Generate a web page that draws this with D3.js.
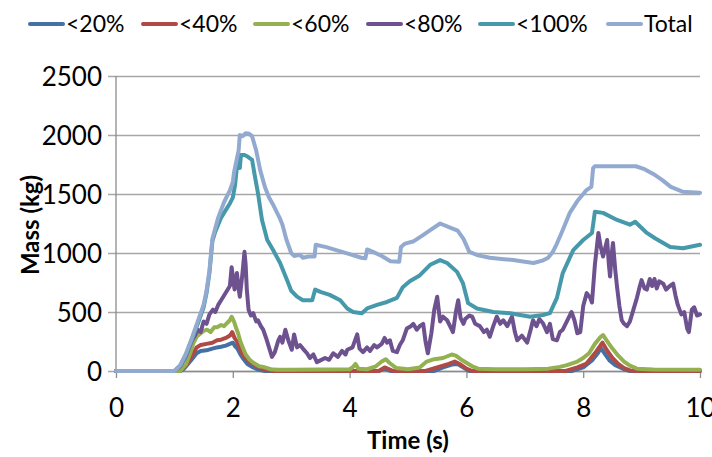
<!DOCTYPE html>
<html lang="en">
<head>
    <script src="https://d3js.org/d3.v7.min.js"></script>
    <style>
        body { margin: 0; background: #fff; }
        text { font-family: Lato, "Liberation Sans", sans-serif; fill: #000; }
    </style>
</head>
<body>
    <svg></svg>
    <script>
        // series: [time (s), mass (kg)]
        const seriesNames = ['<20%', '<40%', '<60%', '<80%', '<100%', 'Total']
        const seriesColors = ['#4470a5', '#b04a47', '#93b151', '#6e5290', '#4699ab', '#93aad0']
        const xTicks = [0, 2, 4, 6, 8, 10]
        const yTicks = [0, 500, 1000, 1500, 2000, 2500]

        const under20 = [[0,0],[1.1,0],[1.15,15],[1.2,40],[1.3,100],[1.38,150],[1.45,170],[1.55,175],[1.65,190],[1.73,200],[1.8,205],[1.88,215],[1.95,230],[2,240],[2.04,210],[2.08,190],[2.13,140],[2.17,110],[2.25,60],[2.35,30],[2.45,10],[2.55,0],[4.5,0],[4.6,20],[4.7,0],[5.45,0],[5.6,30],[5.75,55],[5.85,60],[5.95,30],[6.05,0],[7.8,0],[8,30],[8.15,90],[8.25,150],[8.3,195],[8.35,160],[8.45,90],[8.55,50],[8.7,15],[8.8,0],[10,0]]
        const under40 = [[0,0],[1.1,0],[1.15,20],[1.2,50],[1.3,130],[1.38,200],[1.45,220],[1.55,230],[1.65,240],[1.73,260],[1.8,265],[1.88,280],[1.95,300],[1.99,330],[2.03,280],[2.07,250],[2.12,190],[2.17,140],[2.25,90],[2.35,60],[2.45,30],[2.55,10],[2.7,0],[4.5,0],[4.6,30],[4.65,20],[4.75,0],[5.3,0],[5.5,30],[5.7,60],[5.8,80],[5.9,55],[6,20],[6.1,0],[7.7,0],[7.9,30],[8.05,60],[8.2,150],[8.3,220],[8.33,240],[8.4,180],[8.5,110],[8.6,60],[8.7,25],[8.8,5],[8.9,0],[10,0]]
        const under60 = [[0,0],[1.1,0],[1.15,30],[1.2,60],[1.27,150],[1.32,230],[1.38,290],[1.45,320],[1.5,340],[1.56,350],[1.62,330],[1.68,370],[1.73,370],[1.8,390],[1.85,380],[1.9,405],[1.95,430],[1.98,460],[2.02,420],[2.06,360],[2.09,320],[2.13,250],[2.17,200],[2.22,140],[2.29,95],[2.35,70],[2.45,40],[2.52,35],[2.65,15],[2.76,10],[3,10],[3.5,12],[4,15],[4.05,30],[4.1,60],[4.15,20],[4.3,15],[4.45,40],[4.55,80],[4.62,100],[4.68,70],[4.8,25],[5,15],[5.2,30],[5.32,80],[5.45,100],[5.6,110],[5.75,140],[5.82,130],[5.9,100],[6,70],[6.1,40],[6.2,20],[6.5,15],[7,15],[7.4,20],[7.6,35],[7.72,50],[7.9,80],[8,110],[8.1,150],[8.2,230],[8.3,290],[8.34,305],[8.4,260],[8.5,190],[8.6,130],[8.7,80],[8.8,45],[8.92,20],[9.2,12],[10,10]]
        const under80 = [[0,0],[1,0],[1.1,40],[1.2,130],[1.3,260],[1.35,300],[1.4,350],[1.45,330],[1.5,420],[1.55,400],[1.6,480],[1.66,520],[1.7,500],[1.75,560],[1.8,600],[1.85,640],[1.9,680],[1.95,720],[1.98,880],[2.01,760],[2.03,690],[2.07,830],[2.1,700],[2.12,630],[2.16,800],[2.2,1010],[2.22,900],[2.24,690],[2.27,520],[2.31,470],[2.35,490],[2.4,420],[2.43,430],[2.48,380],[2.52,350],[2.57,280],[2.62,200],[2.67,120],[2.72,160],[2.78,260],[2.81,290],[2.85,240],[2.9,350],[2.95,260],[3.01,180],[3.05,310],[3.1,200],[3.15,220],[3.2,190],[3.27,150],[3.32,110],[3.38,140],[3.44,75],[3.5,90],[3.58,110],[3.65,95],[3.72,150],[3.8,120],[3.87,170],[3.93,140],[3.96,180],[4.05,200],[4.13,310],[4.17,190],[4.23,160],[4.3,200],[4.35,170],[4.42,220],[4.47,200],[4.55,230],[4.6,280],[4.64,240],[4.69,260],[4.74,170],[4.81,160],[4.86,220],[4.91,260],[4.98,360],[5.05,380],[5.09,400],[5.15,350],[5.2,380],[5.26,400],[5.3,250],[5.34,150],[5.4,320],[5.45,520],[5.5,630],[5.53,500],[5.55,420],[5.6,460],[5.67,430],[5.72,380],[5.77,330],[5.82,500],[5.86,600],[5.9,450],[5.95,400],[5.98,440],[6.05,470],[6.1,460],[6.15,400],[6.23,380],[6.3,330],[6.35,350],[6.4,290],[6.46,380],[6.52,460],[6.58,400],[6.63,430],[6.7,380],[6.78,460],[6.83,330],[6.87,260],[6.95,300],[7.04,240],[7.1,350],[7.14,430],[7.2,380],[7.25,440],[7.31,405],[7.38,330],[7.43,400],[7.48,270],[7.55,260],[7.6,330],[7.65,350],[7.72,420],[7.8,500],[7.85,430],[7.9,320],[7.95,330],[8,550],[8.06,660],[8.12,620],[8.15,580],[8.2,900],[8.26,1170],[8.3,1050],[8.34,970],[8.38,1050],[8.41,1110],[8.44,900],[8.46,800],[8.49,1000],[8.51,1085],[8.55,850],[8.58,710],[8.62,550],[8.66,430],[8.7,400],[8.75,380],[8.8,420],[8.86,520],[8.92,620],[8.97,720],[9,770],[9.05,700],[9.09,690],[9.14,780],[9.18,720],[9.22,780],[9.26,700],[9.3,760],[9.37,740],[9.42,690],[9.48,720],[9.54,740],[9.58,640],[9.62,560],[9.68,480],[9.73,500],[9.78,360],[9.81,330],[9.86,520],[9.9,540],[9.95,470],[10,480]]
        const under100 = [[0,0],[1,0],[1.1,45],[1.2,140],[1.3,270],[1.4,400],[1.5,540],[1.55,660],[1.6,830],[1.65,1100],[1.7,1180],[1.8,1300],[1.9,1380],[1.95,1420],[2,1470],[2.04,1580],[2.07,1730],[2.1,1840],[2.12,1720],[2.14,1830],[2.2,1830],[2.26,1815],[2.33,1790],[2.38,1645],[2.43,1510],[2.5,1280],[2.59,1110],[2.69,1025],[2.81,915],[2.93,770],[3,680],[3.1,630],[3.2,600],[3.36,600],[3.41,690],[3.5,670],[3.66,645],[3.84,600],[3.96,530],[4.06,500],[4.21,490],[4.3,530],[4.47,560],[4.64,585],[4.81,620],[4.91,710],[5.03,760],[5.2,810],[5.38,900],[5.55,940],[5.67,915],[5.84,840],[5.94,745],[6.03,575],[6.18,530],[6.46,500],[6.75,490],[7.09,460],[7.31,475],[7.43,490],[7.55,620],[7.65,830],[7.83,1025],[8,1110],[8.15,1170],[8.2,1350],[8.34,1340],[8.58,1280],[8.8,1240],[8.89,1265],[9.09,1170],[9.23,1125],[9.49,1050],[9.71,1040],[10,1070]]
        const total = [[0,0],[1,0],[1.1,50],[1.2,150],[1.3,280],[1.4,420],[1.5,560],[1.55,680],[1.6,850],[1.65,1120],[1.7,1210],[1.75,1300],[1.85,1430],[1.95,1530],[2,1600],[2.02,1680],[2.07,1800],[2.1,1870],[2.12,2000],[2.17,1990],[2.22,2015],[2.28,2010],[2.33,1990],[2.4,1870],[2.47,1700],[2.55,1560],[2.62,1470],[2.7,1400],[2.8,1300],[2.85,1240],[2.92,1110],[3,1000],[3.05,975],[3.15,985],[3.2,960],[3.3,970],[3.4,970],[3.42,1070],[3.6,1050],[3.8,1020],[4,990],[4.2,960],[4.27,955],[4.3,1030],[4.4,1010],[4.55,975],[4.7,930],[4.85,925],[4.88,1050],[4.95,1080],[5.1,1100],[5.25,1150],[5.4,1200],[5.55,1250],[5.7,1220],[5.85,1190],[5.95,1120],[6.05,1010],[6.2,980],[6.4,960],[6.6,950],[6.8,940],[7,925],[7.15,915],[7.3,935],[7.4,960],[7.48,1010],[7.55,1080],[7.65,1195],[7.77,1340],[7.9,1440],[8.05,1530],[8.14,1560],[8.17,1720],[8.2,1735],[8.9,1735],[9.05,1710],[9.2,1670],[9.35,1620],[9.5,1560],[9.7,1520],[10,1510]]

        const allSeries = [under20, under40, under60, under80, under100, total]

        const W = 712, H = 457
        const svg = d3.select('svg')
            .attr('width', W)
            .attr('height', H)

        const x = d3.scaleLinear().domain([0, 10]).range([116, 700])
        const y = d3.scaleLinear().domain([0, 2500]).range([371, 76])

        // gridlines + y labels (gridlines start a little left of the axis, like Excel tick marks)
        const yAxis = svg.append('g')
            .attr('transform', 'translate(700,0)')
            .call(d3.axisLeft(y).tickValues(yTicks).tickSize(592).tickPadding(6).tickFormat(d3.format('d')))
        yAxis.select('.domain').remove()
        yAxis.selectAll('line').attr('stroke', '#a6a6a6').attr('stroke-width', 1.3)
        yAxis.selectAll('text').style('font-size', '26px').attr('dy', '0.36em')

        // x axis
        const xAxis = svg.append('g')
            .attr('transform', 'translate(0,371)')
            .call(d3.axisBottom(x).tickValues(xTicks).tickSize(7).tickSizeOuter(0).tickPadding(21))
        xAxis.select('.domain').attr('stroke', '#8c8c8c').attr('stroke-width', 1.3)
        xAxis.selectAll('line').attr('stroke', '#8c8c8c').attr('stroke-width', 1.3)
        xAxis.selectAll('text').style('font-size', '26px')

        svg.append('line')
            .attr('x1', 116).attr('x2', 116)
            .attr('y1', y(2500)).attr('y2', y(0))
            .attr('stroke', '#8c8c8c').attr('stroke-width', 1.3)

        const line = d3.line()
            .x(d => x(d[0]))
            .y(d => y(d[1]))

        svg.append('g')
            .selectAll('path')
            .data(allSeries)
            .join('path')
            .attr('d', line)
            .attr('fill', 'none')
            .attr('stroke', (d, i) => seriesColors[i])
            .attr('stroke-width', 4)
            .attr('stroke-linejoin', 'round')
            .attr('stroke-linecap', 'round')

        // axis titles
        svg.append('text')
            .attr('x', 408).attr('y', 449)
            .attr('text-anchor', 'middle')
            .style('font-size', '24px').style('font-weight', 'bold')
            .text('Time (s)')
        svg.append('text')
            .attr('transform', 'translate(39,225) rotate(-90)')
            .attr('text-anchor', 'middle')
            .style('font-size', '24px').style('font-weight', 'bold')
            .text('Mass (kg)')

        // legend
        const legendX = [30, 143, 255, 368, 480, 608]
        const legend = svg.append('g')
            .selectAll('g')
            .data(seriesNames)
            .join('g')
            .attr('transform', (d, i) => `translate(${legendX[i]},24)`)
        legend.append('line')
            .attr('x1', 0).attr('x2', 33)
            .attr('stroke', (d, i) => seriesColors[i])
            .attr('stroke-width', 4)
            .attr('stroke-linecap', 'round')
        legend.append('text')
            .attr('x', 36).attr('y', 8)
            .style('font-size', '23px')
            .text(d => d)
    </script>
</body>
</html>
